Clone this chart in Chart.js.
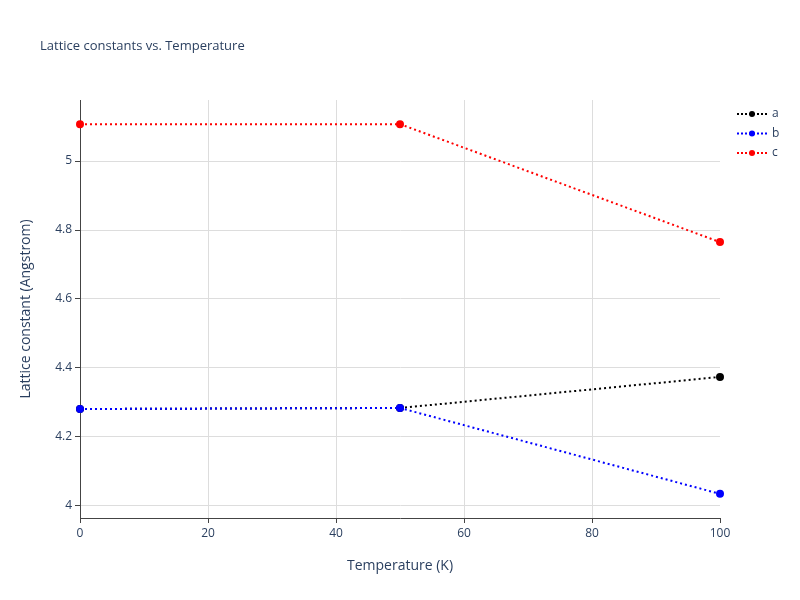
<!DOCTYPE html>
<html><head><meta charset="utf-8">
<script src="https://cdn.jsdelivr.net/npm/chart.js@4"></script>
<style>html,body{margin:0;background:#fff}#wrap{width:800px;height:600px}</style>
</head><body><div id="wrap"><canvas id="c" width="800" height="600"></canvas></div>
<script>
const temps = [0, 50, 100];
const aVals = [4.281, 4.284, 4.374];
const bVals = [4.281, 4.284, 4.035];
const cVals = [5.107, 5.107, 4.765];
const seriesNames = ['a', 'b', 'c'];
const seriesColors = ['#000000', '#0000ff', '#ff0000'];
const FONT = '"Open Sans", sans-serif';
const TXT = '#2a3f5f';

const mk = (i, vals) => ({
  label: seriesNames[i],
  data: temps.map((t, k) => ({ x: t, y: vals[k] })),
  borderColor: seriesColors[i], backgroundColor: seriesColors[i],
  borderDash: [2, 3], borderWidth: 2, pointRadius: 3, pointHoverRadius: 4, clip: false,
  order: 3 - i
});

const overlay = {
  id: 'overlay',
  afterDraw(chart) {
    const g = chart.ctx;
    g.save();
    g.fillStyle = TXT; g.font = '13px ' + FONT; g.textBaseline = 'middle';
    g.fillText('Lattice constants vs. Temperature', 40, 46);
    chart.data.datasets.forEach((ds, i) => {
      const y = 114 + i * 19.5;
      g.strokeStyle = ds.borderColor; g.lineWidth = 2; g.setLineDash([2, 2]);
      g.beginPath(); g.moveTo(737, y); g.lineTo(767, y); g.stroke();
      g.setLineDash([]); g.fillStyle = ds.borderColor;
      g.beginPath(); g.arc(752, y, 3, 0, Math.PI * 2); g.fill();
      g.fillStyle = TXT; g.font = '12px ' + FONT;
      g.fillText(ds.label, 772, y);
    });
    g.restore();
  }
};

new Chart(document.getElementById('c'), {
  type: 'line',
  data: { datasets: [mk(0, aVals), mk(1, bVals), mk(2, cVals)] },
  options: {
    responsive: false, animation: false,
    layout: { padding: { top: 100, right: 80, left: 14, bottom: 0 } },
    plugins: { legend: { display: false }, title: { display: false } },
    scales: {
      x: {
        type: 'linear', min: 0, max: 100,
        ticks: { stepSize: 20, color: TXT, font: { family: FONT, size: 12 } },
        grid: { color: c => (c.tick && (c.tick.value === 0 || c.tick.value === 100)) ? 'rgba(0,0,0,0)' : '#dddddd', tickLength: 5, tickColor: '#444' },
        border: { color: '#444', width: 1 },
        title: { display: true, text: 'Temperature (K)', color: TXT, font: { family: FONT, size: 14 }, padding: { top: 0, bottom: 26 } },
        afterFit: s => { s.height = 82; }
      },
      y: {
        min: 3.965, max: 5.177,
        afterBuildTicks: s => {
          s.ticks = [4, 4.2, 4.4, 4.6, 4.8, 5].map(v => ({ value: v }));
        },
        ticks: { color: TXT, font: { family: FONT, size: 12 }, callback: v => String(+v.toFixed(1)) },
        grid: { color: '#dddddd', tickLength: 5, tickColor: '#444' },
        border: { color: '#444', width: 1 },
        title: { display: true, text: 'Lattice constant (Angstrom)', color: TXT, font: { family: FONT, size: 14 } },
        afterFit: s => { s.width = 66; }
      }
    }
  },
  plugins: [overlay]
});
</script></body></html>
